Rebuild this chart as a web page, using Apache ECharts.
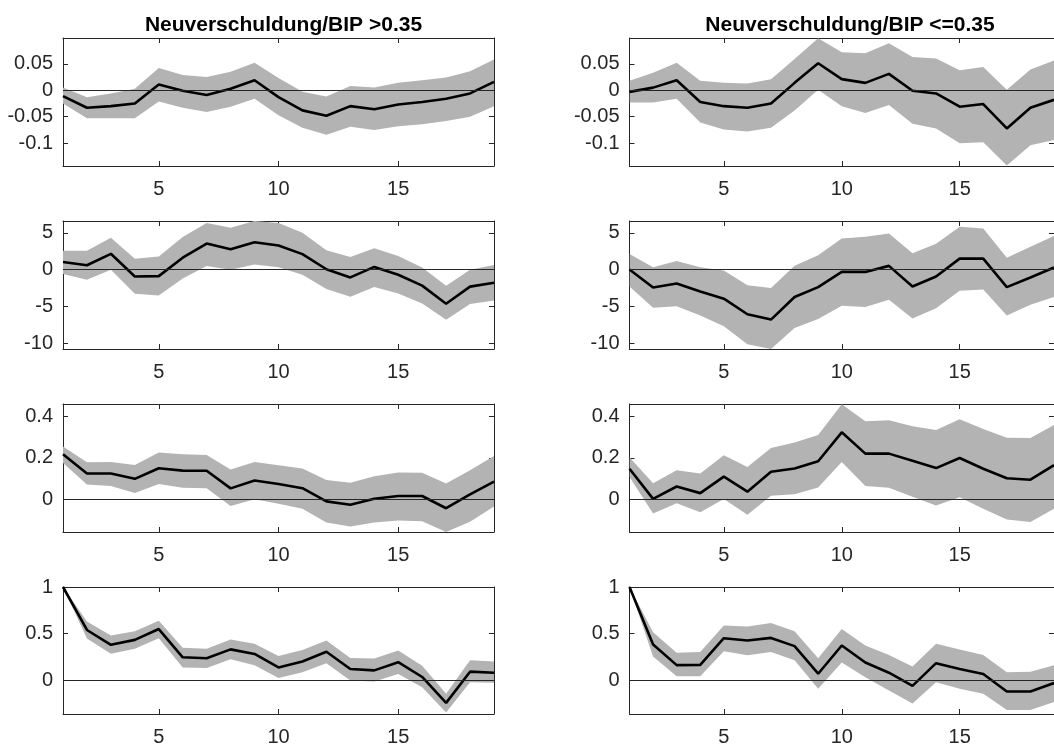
<!DOCTYPE html>
<html>
<head>
<meta charset="utf-8">
<script src="https://cdn.jsdelivr.net/npm/echarts@6/dist/echarts.min.js"></script>
<style>
  html, body { margin: 0; padding: 0; background: #fff; }
  #chart { width: 1054px; height: 747px; }
</style>
</head>
<body>
<div id="chart"></div>
<script>
// Perioden 1..19
const steps = [1, 2, 3, 4, 5, 6, 7, 8, 9, 10, 11, 12, 13, 14, 15, 16, 17, 18, 19];
const xTicks = [5, 10, 15];
const titles = ['Neuverschuldung/BIP >0.35', 'Neuverschuldung/BIP <=0.35'];

// Zeile 1
const hiRow1Mid = [-0.011, -0.033, -0.030, -0.025, 0.011, -0.001, -0.009, 0.003, 0.019, -0.013, -0.038, -0.048, -0.030, -0.036, -0.027, -0.022, -0.016, -0.006, 0.016];
const hiRow1Up  = [0.005, -0.013, -0.006, 0.003, 0.042, 0.029, 0.025, 0.035, 0.052, 0.023, -0.003, -0.012, 0.008, 0.005, 0.014, 0.019, 0.024, 0.036, 0.058];
const hiRow1Lo  = [-0.025, -0.053, -0.053, -0.053, -0.021, -0.033, -0.041, -0.031, -0.016, -0.047, -0.071, -0.084, -0.069, -0.075, -0.068, -0.064, -0.058, -0.050, -0.030];
const loRow1Mid = [-0.003, 0.005, 0.019, -0.022, -0.030, -0.033, -0.025, 0.014, 0.051, 0.021, 0.014, 0.031, -0.001, -0.006, -0.031, -0.026, -0.072, -0.033, -0.018];
const loRow1Up  = [0.018, 0.033, 0.052, 0.018, 0.014, 0.013, 0.021, 0.059, 0.098, 0.072, 0.070, 0.089, 0.063, 0.060, 0.038, 0.044, 0.001, 0.039, 0.056];
const loRow1Lo  = [-0.023, -0.023, -0.016, -0.061, -0.074, -0.078, -0.071, -0.038, 0.001, -0.030, -0.043, -0.028, -0.063, -0.072, -0.100, -0.098, -0.142, -0.104, -0.094];

// Zeile 2
const hiRow2Mid = [1.03, 0.58, 2.14, -0.94, -0.89, 1.61, 3.53, 2.77, 3.71, 3.26, 2.10, 0.04, -1.07, 0.36, -0.71, -2.19, -4.64, -2.32, -1.79];
const hiRow2Up  = [2.54, 2.54, 4.33, 1.47, 1.79, 4.42, 6.34, 5.67, 6.6, 6.34, 5.0, 2.63, 1.70, 2.90, 1.83, 0.27, -2.19, -0.04, 0.62];
const hiRow2Lo  = [-0.62, -1.38, -0.04, -3.30, -3.53, -1.21, 0.49, -0.04, 0.67, 0.31, -0.71, -2.63, -3.71, -2.37, -3.26, -4.60, -6.83, -4.69, -4.20];
const loRow2Mid = [0, -2.43, -1.89, -2.97, -3.96, -6.08, -6.80, -3.74, -2.39, -0.32, -0.32, 0.50, -2.30, -0.95, 1.49, 1.49, -2.39, -1.08, 0.27];
const loRow2Up  = [2.12, 0.32, 1.17, 0.32, -0.14, -2.12, -2.52, 0.50, 1.94, 4.23, 4.46, 4.91, 2.21, 3.51, 5.81, 5.59, 1.62, 3.11, 4.55];
const loRow2Lo  = [-2.30, -5.18, -5.00, -6.26, -7.70, -10.14, -10.8, -7.93, -6.71, -4.91, -5.09, -4.10, -6.67, -5.27, -2.88, -2.70, -6.26, -4.78, -3.74];

// Zeile 3
const hiRow3Mid = [0.218, 0.125, 0.125, 0.099, 0.150, 0.139, 0.138, 0.053, 0.091, 0.074, 0.054, -0.010, -0.026, 0.003, 0.016, 0.016, -0.043, 0.024, 0.086];
const hiRow3Up  = [0.256, 0.179, 0.181, 0.166, 0.226, 0.218, 0.214, 0.144, 0.181, 0.165, 0.149, 0.093, 0.080, 0.112, 0.130, 0.128, 0.077, 0.141, 0.210];
const hiRow3Lo  = [0.176, 0.072, 0.064, 0.030, 0.074, 0.056, 0.054, -0.032, 0.0, -0.021, -0.045, -0.112, -0.131, -0.112, -0.102, -0.106, -0.158, -0.109, -0.035];
const loRow3Mid = [0.148, 0.002, 0.062, 0.030, 0.110, 0.037, 0.133, 0.149, 0.184, 0.324, 0.221, 0.221, 0.186, 0.151, 0.200, 0.148, 0.102, 0.095, 0.165];
const loRow3Up  = [0.203, 0.078, 0.141, 0.125, 0.213, 0.156, 0.248, 0.275, 0.311, 0.46, 0.378, 0.382, 0.354, 0.335, 0.387, 0.340, 0.298, 0.297, 0.36];
const loRow3Lo  = [0.108, -0.068, -0.019, -0.062, 0.002, -0.075, 0.017, 0.025, 0.057, 0.181, 0.065, 0.056, 0.013, -0.030, 0.010, -0.046, -0.098, -0.110, -0.046];

// Zeile 4
const hiRow4Mid = [1.0, 0.539, 0.380, 0.433, 0.549, 0.246, 0.236, 0.331, 0.282, 0.137, 0.201, 0.306, 0.120, 0.106, 0.194, 0.035, -0.243, 0.092, 0.081];
const hiRow4Up  = [1.0, 0.630, 0.479, 0.525, 0.637, 0.349, 0.338, 0.437, 0.391, 0.261, 0.324, 0.426, 0.239, 0.232, 0.320, 0.155, -0.144, 0.215, 0.201];
const hiRow4Lo  = [1.0, 0.447, 0.285, 0.338, 0.451, 0.137, 0.130, 0.225, 0.162, 0.025, 0.085, 0.183, -0.004, -0.014, 0.067, -0.074, -0.345, -0.021, -0.028];
const loRow4Mid = [1.0, 0.384, 0.162, 0.165, 0.451, 0.426, 0.454, 0.366, 0.070, 0.373, 0.190, 0.081, -0.060, 0.183, 0.120, 0.067, -0.120, -0.120, -0.030];
const loRow4Up  = [1.0, 0.514, 0.296, 0.303, 0.588, 0.577, 0.613, 0.525, 0.236, 0.549, 0.373, 0.271, 0.148, 0.391, 0.331, 0.271, 0.085, 0.092, 0.162];
const loRow4Lo  = [1.0, 0.254, 0.042, 0.042, 0.310, 0.268, 0.303, 0.215, -0.092, 0.190, 0.032, -0.109, -0.250, -0.021, -0.092, -0.144, -0.320, -0.320, -0.232];

// y-Achsen je Zeile
const yRanges = [[-0.143, 0.0987], [-10.8, 6.6], [-0.158, 0.461], [-0.362, 1.0]];
const yTicks = [[-0.1, -0.05, 0, 0.05], [-10, -5, 0, 5], [0, 0.2, 0.4], [0, 0.5, 1]];

const panels = [
  [hiRow1Mid, hiRow1Up, hiRow1Lo], [loRow1Mid, loRow1Up, loRow1Lo],
  [hiRow2Mid, hiRow2Up, hiRow2Lo], [loRow2Mid, loRow2Up, loRow2Lo],
  [hiRow3Mid, hiRow3Up, hiRow3Lo], [loRow3Mid, loRow3Up, loRow3Lo],
  [hiRow4Mid, hiRow4Up, hiRow4Lo], [loRow4Mid, loRow4Up, loRow4Lo]
];

const FONT = 'Liberation Sans';
const INK = '#262626';
const colLeft = [63, 629.5];
const rowTop = [38, 221, 404, 587];
const PW = 431, PH = 128;

const grid = [], xAxis = [], yAxis = [], series = [];

// Band als ein Polygon: oberer Rand hin, unterer Rand zurück
function bandRenderer(up, lo) {
  return function (params, api) {
    if (params.dataIndex !== 0) return null;
    const pts = [];
    steps.forEach((s, k) => pts.push(api.coord([s, up[k]])));
    for (let k = steps.length - 1; k >= 0; k--) pts.push(api.coord([steps[k], lo[k]]));
    const cs = params.coordSys;
    return {
      type: 'polygon',
      shape: { points: pts },
      style: { fill: '#b3b3b3' },
      clipPath: { type: 'rect', shape: { x: cs.x, y: cs.y, width: cs.width, height: cs.height } }
    };
  };
}

panels.forEach((p, i) => {
  const row = Math.floor(i / 2), col = i % 2;
  grid.push({ left: colLeft[col], top: rowTop[row], width: PW, height: PH });

  const lineOpt = { show: true, onZero: false, lineStyle: { color: INK, width: 1 } };
  const tickOpt = vals => ({ inside: true, length: 5, customValues: vals, lineStyle: { color: INK } });
  // unten (mit Beschriftung) und oben (nur Striche)
  xAxis.push({
    type: 'value', gridIndex: i, min: 1, max: 19, position: 'bottom',
    axisLine: lineOpt, splitLine: { show: false }, axisTick: tickOpt(xTicks),
    axisLabel: { customValues: xTicks, margin: 13, fontFamily: FONT, fontSize: 20, color: INK }
  });
  xAxis.push({
    type: 'value', gridIndex: i, min: 1, max: 19, position: 'top',
    axisLine: lineOpt, splitLine: { show: false }, axisTick: tickOpt(xTicks),
    axisLabel: { show: false }
  });
  yAxis.push({
    type: 'value', gridIndex: i, min: yRanges[row][0], max: yRanges[row][1], position: 'left',
    axisLine: lineOpt, splitLine: { show: false }, axisTick: tickOpt(yTicks[row]),
    axisLabel: { customValues: yTicks[row], margin: 10, fontFamily: FONT, fontSize: 20, color: INK }
  });
  yAxis.push({
    type: 'value', gridIndex: i, min: yRanges[row][0], max: yRanges[row][1], position: 'right',
    axisLine: lineOpt, splitLine: { show: false }, axisTick: tickOpt(yTicks[row]),
    axisLabel: { show: false }
  });

  const mid = p[0], up = p[1], lo = p[2];
  const xi = i * 2, yi = i * 2;
  series.push({
    type: 'custom', xAxisIndex: xi, yAxisIndex: yi, silent: true,
    data: steps.map((s, k) => [s, mid[k]]),
    renderItem: bandRenderer(up, lo)
  });
  series.push({
    type: 'line', xAxisIndex: xi, yAxisIndex: yi,
    data: steps.map((s, k) => [s, mid[k]]),
    symbol: 'none', lineStyle: { color: '#000', width: 2.6 },
    markLine: {
      silent: true, symbol: ['none', 'none'], label: { show: false },
      lineStyle: { color: INK, width: 1, type: 'solid' },
      data: [{ yAxis: 0 }]
    }
  });
});

const chart = echarts.init(document.getElementById('chart'));
chart.setOption({
  animation: false,
  backgroundColor: '#fff',
  title: titles.map((t, c) => ({
    text: t, left: colLeft[c] + PW / 2, top: 10, textAlign: 'center',
    textStyle: { fontFamily: FONT, fontSize: 21, fontWeight: 'bold', color: '#000' }
  })),
  grid: grid,
  xAxis: xAxis,
  yAxis: yAxis,
  series: series
});
</script>
</body>
</html>
